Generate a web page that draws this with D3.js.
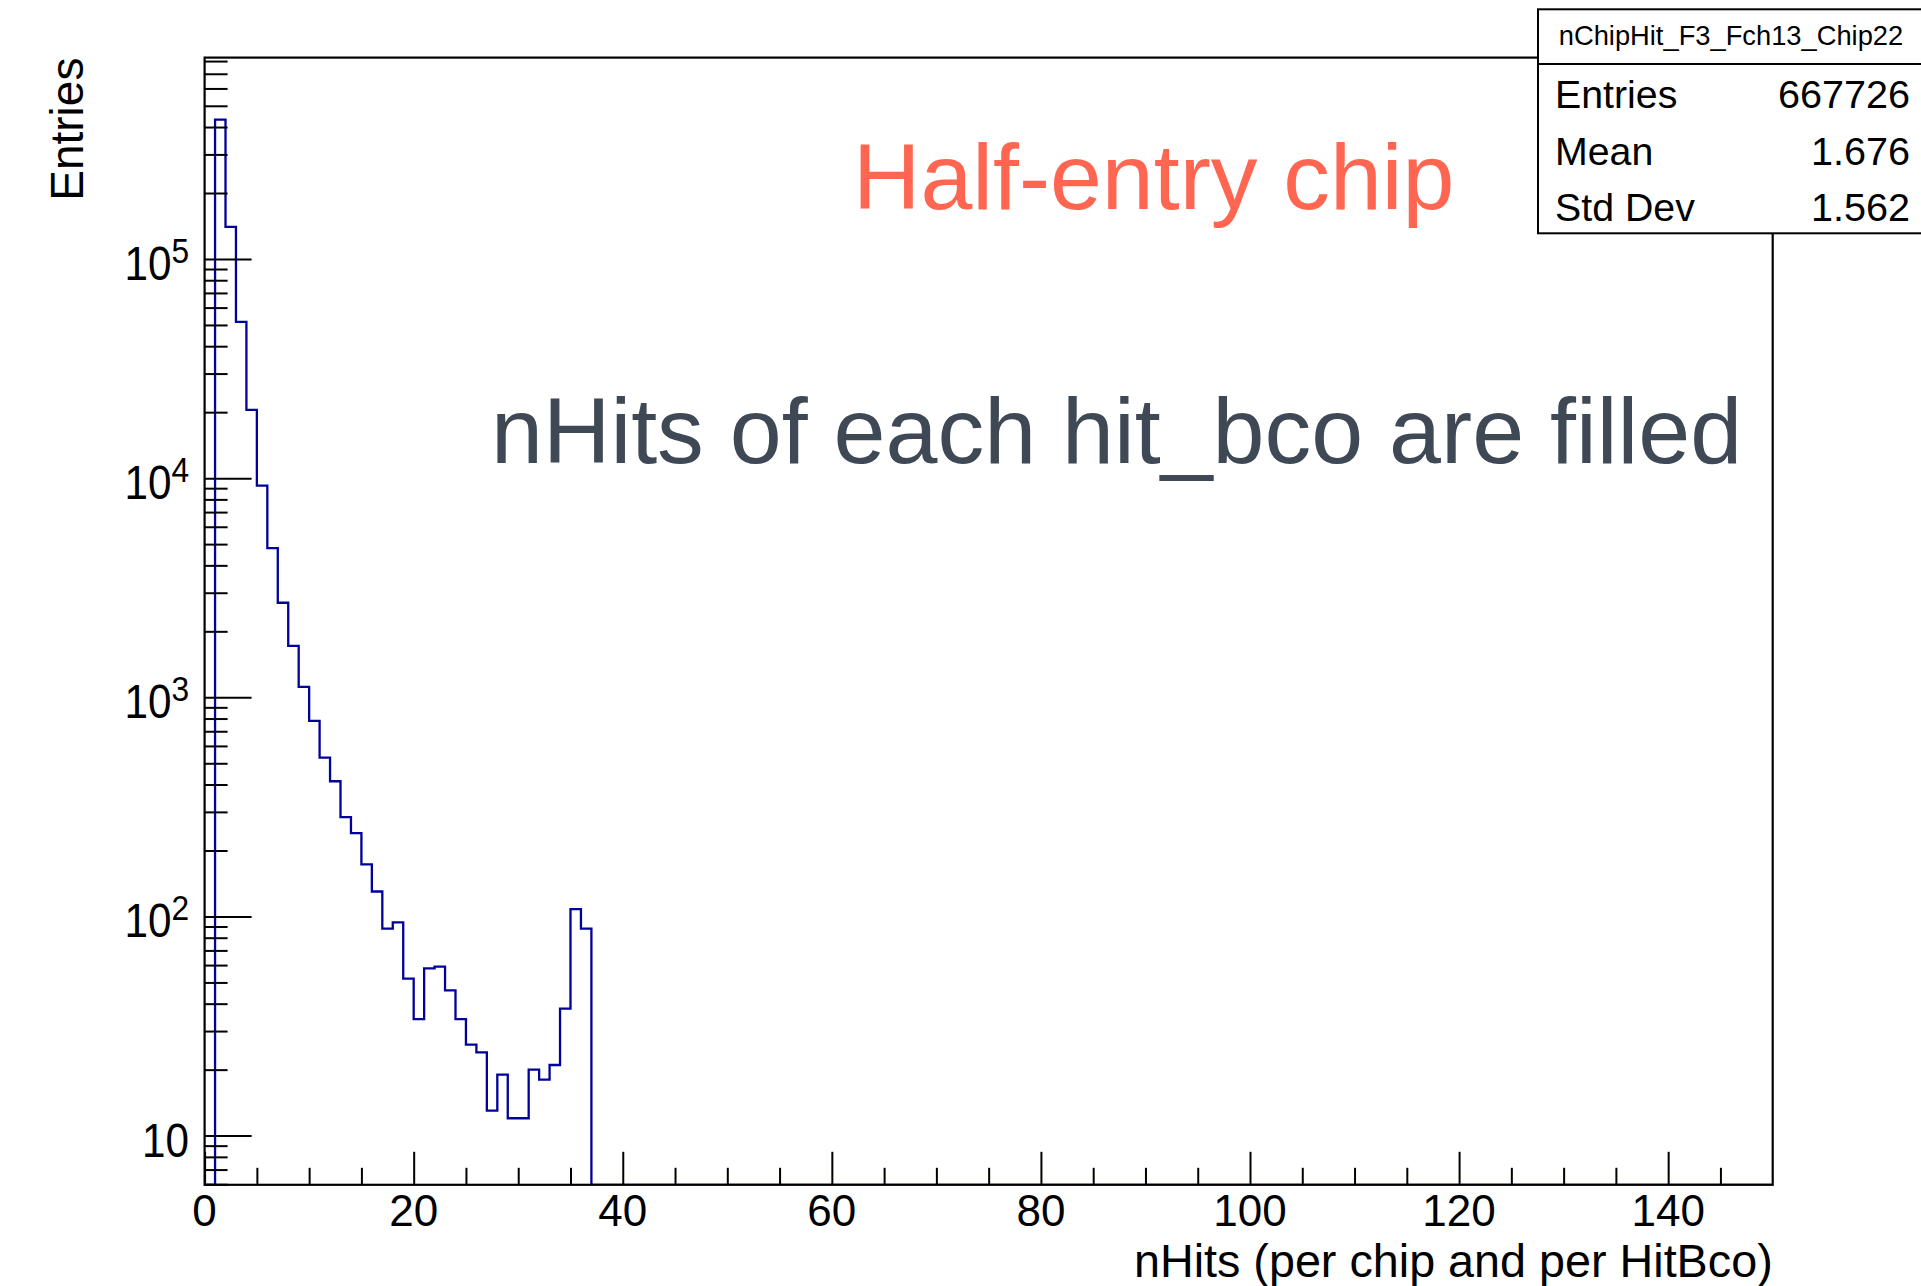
<!DOCTYPE html>
<html>
<head>
<meta charset="utf-8">
<script src="https://cdn.jsdelivr.net/npm/d3@7"></script>
<style>
  html, body { margin: 0; padding: 0; background: #ffffff; }
  svg { display: block; }
  text { font-family: "Liberation Sans", Arial, Helvetica, sans-serif; }
</style>
</head>
<body>
<svg id="chart" width="1921" height="1286"></svg>
<script>
// ---- data ----
const binLowEdges = [0,1,2,3,4,5,6,7,8,9,10,11,12,13,14,15,16,17,18,19,20,21,22,23,24,25,26,27,28,29,30,31,32,33,34,35,36];
const binCounts   = [0,432100,140000,51600,20500,9250,4790,2700,1716,1115,780,531,414,284,240,173,130,88,94,52,34,58,59,46,34,26,24,13,19,12,12,20,18,21,38,108,88];
const xTickLabels = [0,20,40,60,80,100,120,140];
const yDecades    = [1,2,3,4,5];
const statNames   = ["Entries","Mean","Std Dev"];
const statValues  = ["667726","1.676","1.562"];
const histName    = "nChipHit_F3_Fch13_Chip22";
const xTitle      = "nHits (per chip and per HitBco)";
const yTitle      = "Entries";
const note1       = "Half-entry chip";
const note2       = "nHits of each hit_bco are filled";

// ---- layout ----
const W = 1921, H = 1286;
const frame = {left: 204.6, right: 1772.7, top: 57.6, bottom: 1184.8};
const xMin = 0, xMax = 150;
const yMin = 5.965, yMax = 829600;

const svg = d3.select("#chart");
svg.append("rect").attr("width", W).attr("height", H).attr("fill", "#fff");

const x = d3.scaleLinear().domain([xMin, xMax]).range([frame.left, frame.right]);
const y = d3.scaleLog().domain([yMin, yMax]).range([frame.bottom, frame.top]);

// clip for histogram
svg.append("defs").append("clipPath").attr("id", "plotclip")
  .append("rect").attr("x", frame.left).attr("y", frame.top)
  .attr("width", frame.right - frame.left).attr("height", frame.bottom - frame.top);

// histogram step line
const pts = binLowEdges.map((e, i) => [e, binCounts[i] > 0 ? binCounts[i] : yMin]);
const lastEdge = binLowEdges[binLowEdges.length - 1] + 1;
pts.push([lastEdge, yMin]);
pts.push([xMax, yMin]);
const line = d3.line().x(d => x(d[0])).y(d => y(d[1])).curve(d3.curveStepAfter);
svg.append("path")
  .attr("clip-path", "url(#plotclip)")
  .attr("d", line(pts))
  .attr("fill", "none")
  .attr("stroke", "#00009a")
  .attr("stroke-width", 2.3);

// ---- axes ----
const yMinorVals = [];
yDecades.concat([0,6]).forEach(k => {
  for (let m = 2; m <= 9; m++) {
    const v = m * Math.pow(10, k);
    if (v >= yMin && v <= yMax) yMinorVals.push(v);
  }
});
const yMajorVals = yDecades.map(k => Math.pow(10, k));

const gYminor = svg.append("g").attr("transform", `translate(${frame.left},0)`)
  .call(d3.axisRight(y).tickValues(yMinorVals).tickSize(23).tickFormat(""));
const gYmajor = svg.append("g").attr("transform", `translate(${frame.left},0)`)
  .call(d3.axisRight(y).tickValues(yMajorVals).tickSize(47).tickFormat(""));
[gYminor, gYmajor].forEach(g => {
  g.select(".domain").remove();
  g.selectAll(".tick line").attr("stroke", "#000").attr("stroke-width", 2);
});

const xMinorVals = d3.range(5, 150, 5).filter(v => v % 20 !== 0);
const gXminor = svg.append("g").attr("transform", `translate(0,${frame.bottom})`)
  .call(d3.axisTop(x).tickValues(xMinorVals).tickSize(17).tickFormat(""));
const gXmajor = svg.append("g").attr("transform", `translate(0,${frame.bottom})`)
  .call(d3.axisTop(x).tickValues(xTickLabels).tickSize(33).tickFormat(""));
[gXminor, gXmajor].forEach(g => {
  g.select(".domain").remove();
  g.selectAll(".tick line").attr("stroke", "#000").attr("stroke-width", 2);
});

// frame
svg.append("rect")
  .attr("x", frame.left).attr("y", frame.top)
  .attr("width", frame.right - frame.left).attr("height", frame.bottom - frame.top)
  .attr("fill", "none").attr("stroke", "#000").attr("stroke-width", 2.2);

// x tick labels
svg.append("g").selectAll("text").data(xTickLabels).join("text")
  .attr("x", d => x(d)).attr("y", 1226)
  .attr("text-anchor", "middle")
  .attr("font-size", 44)
  .attr("fill", "#000")
  .text(d => d);

// y tick labels (10^k), slightly condensed like the reference
const yl = svg.append("g").selectAll("text").data(yDecades).join("text")
  .attr("transform", d => `translate(189,${y(Math.pow(10, d)) + 21}) scale(0.88,1)`)
  .attr("text-anchor", "end")
  .attr("font-size", 48)
  .attr("fill", "#000");
yl.append("tspan").text("10");
yl.filter(d => d > 1).append("tspan")
  .attr("font-size", 36).attr("dy", -17).text(d => d);

// axis titles
svg.append("text")
  .attr("transform", `translate(${frame.right},1277) scale(1.027,1)`)
  .attr("text-anchor", "end").attr("font-size", 45.5).attr("fill", "#000")
  .text(xTitle);
svg.append("text")
  .attr("transform", `translate(83,${frame.top}) rotate(-90)`)
  .attr("text-anchor", "end").attr("font-size", 46).attr("fill", "#000")
  .text(yTitle);

// overlay notes
svg.append("text")
  .attr("x", 853).attr("y", 209)
  .attr("font-size", 93.3).attr("fill", "#ff6651")
  .text(note1);
svg.append("text")
  .attr("x", 491).attr("y", 463)
  .attr("font-size", 93.4).attr("fill", "#3e4955")
  .text(note2);

// stats box
const box = {x: 1538, y: 9.3, w: 390, h: 224, sep: 64};
svg.append("rect").attr("x", box.x).attr("y", box.y).attr("width", box.w).attr("height", box.h)
  .attr("fill", "#fff").attr("stroke", "#000").attr("stroke-width", 2);
svg.append("line").attr("x1", box.x).attr("x2", box.x + box.w)
  .attr("y1", box.sep).attr("y2", box.sep).attr("stroke", "#000").attr("stroke-width", 2);
svg.append("text").attr("x", 1731).attr("y", 45)
  .attr("text-anchor", "middle").attr("font-size", 27.3).attr("fill", "#000")
  .text(histName);
const rowY = d3.scaleBand().domain(statNames).range([box.sep, box.y + box.h]);
svg.append("g").selectAll("text").data(statNames).join("text")
  .attr("x", 1555).attr("y", d => rowY(d) + rowY.bandwidth() / 2 + 16)
  .attr("font-size", 39.3).attr("fill", "#000").text(d => d);
svg.append("g").selectAll("text").data(statValues).join("text")
  .attr("x", 1910).attr("y", (d, i) => rowY(statNames[i]) + rowY.bandwidth() / 2 + 16)
  .attr("text-anchor", "end").attr("font-size", 39.6).attr("fill", "#000").text(d => d);
</script>
</body>
</html>
